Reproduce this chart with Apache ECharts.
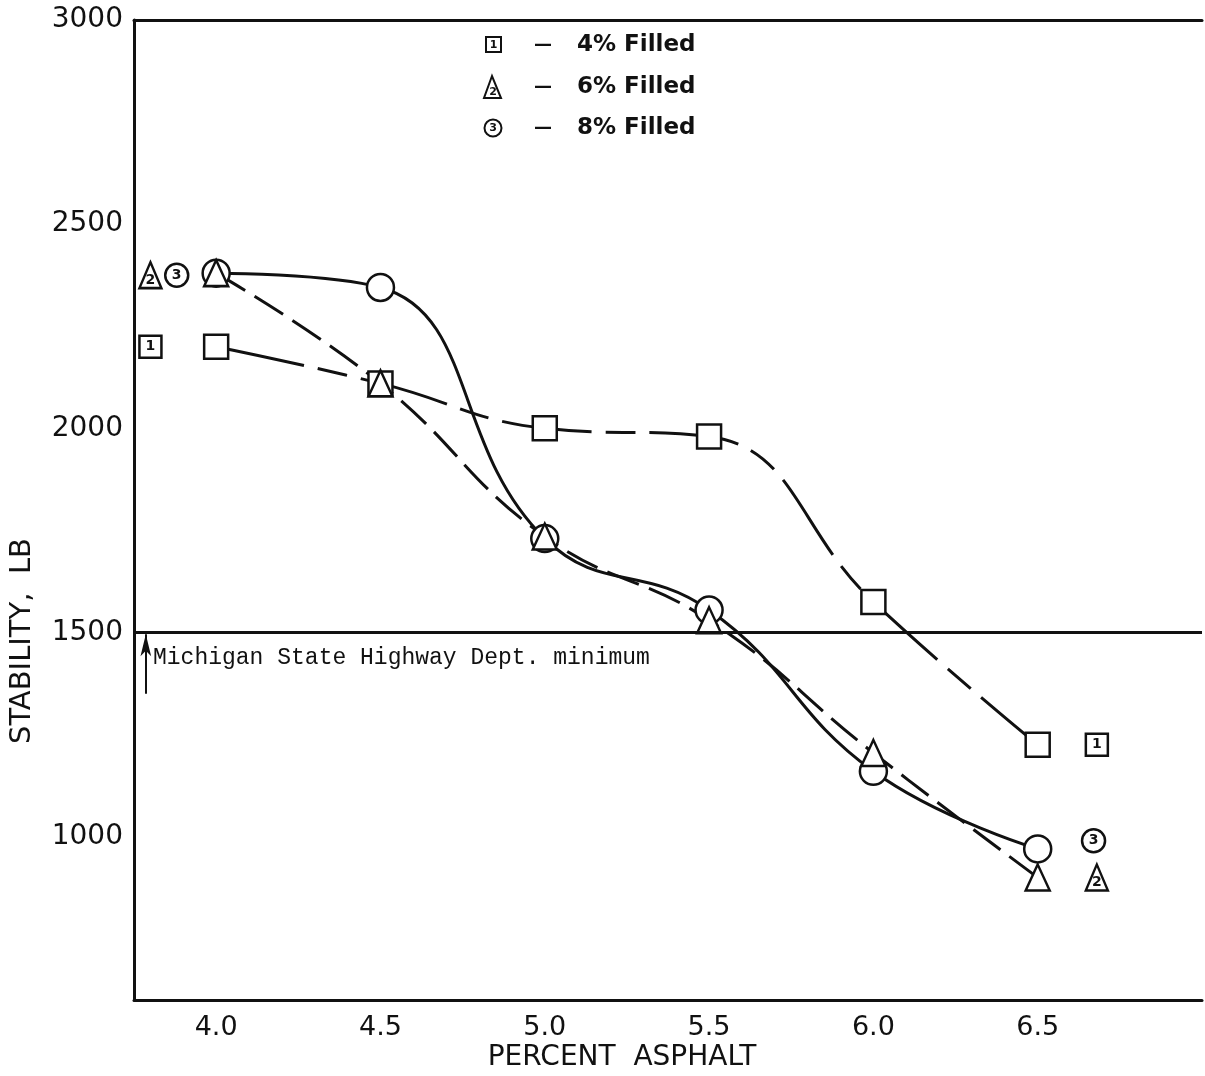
<!DOCTYPE html>
<html>
<head>
  <meta charset="utf-8">
  <title>Stability vs Percent Asphalt</title>
  <script src="https://cdn.jsdelivr.net/npm/echarts@6/dist/echarts.min.js"></script>
  <style>
    html, body { margin: 0; padding: 0; background: #fff; }
    #chart { width: 1205px; height: 1076px; }
  </style>
</head>
<body>
<div id="chart"></div>
<script>
  // data
  var asphalt = [4.0, 4.5, 5.0, 5.5, 6.0, 6.5];
  var filled4 = [2200, 2110, 2000, 1980, 1575, 1225];
  var filled6 = [2380, 2110, 1735, 1530, 1205, 900];
  var filled8 = [2380, 2345, 1730, 1555, 1160, 970];
  var xTicks = [4.0, 4.5, 5.0, 5.5, 6.0, 6.5];
  var yTicks = [1000, 1500, 2000, 2500, 3000];
  var minStability = 1500;
  var arrowX = 3.786, arrowFrom = 1350;

  // numbered tags beside the curves ends
  var tag1 = [[3.80, 2200], [6.68, 1225]];
  var tag2 = [[3.80, 2375], [6.68, 900]];
  var tag3 = [[3.88, 2375], [6.67, 990]];

  var legendRows = ['4% Filled', '6% Filled', '8% Filled'];

  var INK = '#111';
  var chart = echarts.init(document.getElementById('chart'));

  function pairs(ys) {
    return asphalt.map(function (x, i) { return [x, ys[i]]; });
  }

  function curve(name, ys, dash) {
    return {
      name: name, type: 'line', data: pairs(ys), smooth: 0.45,
      showSymbol: false, silent: true, z: 2,
      lineStyle: { color: INK, width: 3, type: dash }
    };
  }

  function marks(ys, symbol, size) {
    return {
      type: 'scatter', data: pairs(ys), symbol: symbol, symbolSize: size,
      silent: true, z: 4,
      itemStyle: { color: '#fff', borderColor: INK, borderWidth: 2.5, opacity: 1 }
    };
  }

  function tags(pts, symbol, size, num, off) {
    return {
      type: 'scatter', data: pts, symbol: symbol, symbolSize: size,
      silent: true, z: 4,
      itemStyle: { color: '#fff', borderColor: INK, borderWidth: 2.5, opacity: 1 },
      label: {
        show: true, position: 'inside', offset: off, formatter: num,
        color: INK, fontSize: 14, fontWeight: 'bold', fontFamily: 'DejaVu Sans'
      }
    };
  }

  var c8 = curve('8%', filled8, 'solid');
  c8.markLine = {
    silent: true, animation: false,
    symbol: ['none', 'none'],
    label: { show: false },
    lineStyle: { color: INK, width: 3, type: 'solid' },
    data: [
      { yAxis: minStability },
      [
        { coord: [arrowX, arrowFrom], symbol: 'none', lineStyle: { width: 2 } },
        { coord: [arrowX, minStability - 4], symbol: 'arrow', symbolSize: [8, 22] }
      ]
    ]
  };

  var legendGroup = [];
  var rowY = [45, 87, 128];
  legendGroup.push({ type: 'rect', shape: { x: 486, y: 37, width: 15, height: 15 },
    style: { fill: '#fff', stroke: INK, lineWidth: 2 } });
  legendGroup.push({ type: 'text', x: 493.5, y: 45, style: { text: '1', fill: INK,
    font: 'bold 11px "DejaVu Sans"', align: 'center', verticalAlign: 'middle' } });
  legendGroup.push({ type: 'polygon', shape: { points: [[492, 76], [484, 98], [501, 98]] },
    style: { fill: '#fff', stroke: INK, lineWidth: 2 } });
  legendGroup.push({ type: 'text', x: 493, y: 92, style: { text: '2', fill: INK,
    font: 'bold 11px "DejaVu Sans"', align: 'center', verticalAlign: 'middle' } });
  legendGroup.push({ type: 'circle', shape: { cx: 493, cy: 128, r: 8.5 },
    style: { fill: '#fff', stroke: INK, lineWidth: 2 } });
  legendGroup.push({ type: 'text', x: 493, y: 128, style: { text: '3', fill: INK,
    font: 'bold 11px "DejaVu Sans"', align: 'center', verticalAlign: 'middle' } });
  legendRows.forEach(function (t, i) {
    legendGroup.push({ type: 'text', x: 534, y: rowY[i], style: { text: '\u2014', fill: INK,
      font: 'bold 18px "DejaVu Sans"', verticalAlign: 'middle' } });
    legendGroup.push({ type: 'text', x: 577, y: rowY[i], style: { text: t, fill: INK,
      font: 'bold 23px "DejaVu Sans"', verticalAlign: 'middle' } });
  });

  var option = {
    animation: false,
    backgroundColor: '#fff',
    grid: { left: 134, top: 20, width: 1076, height: 980 },
    xAxis: [{
      type: 'value', min: 3.75, max: 7.0, interval: 0.25, position: 'bottom',
      axisLine: { show: true, onZero: false, lineStyle: { color: INK, width: 3 } },
      axisTick: { show: false },
      splitLine: { show: false },
      axisLabel: {
        margin: 14, color: INK, fontSize: 27, fontFamily: 'DejaVu Sans',
        formatter: function (v) {
          return xTicks.some(function (t) { return Math.abs(t - v) < 1e-6; }) ? v.toFixed(1) : '';
        }
      }
    }, {
      type: 'value', min: 3.75, max: 7.0, position: 'top',
      axisLine: { show: true, onZero: false, lineStyle: { color: INK, width: 3 } },
      axisTick: { show: false }, axisLabel: { show: false }, splitLine: { show: false }
    }],
    yAxis: {
      type: 'value', min: 600, max: 3000, interval: 100,
      axisLine: { show: true, onZero: false, lineStyle: { color: INK, width: 3 } },
      axisTick: { show: false },
      splitLine: { show: false },
      axisLabel: {
        margin: 11, color: INK, fontSize: 28, fontFamily: 'DejaVu Sans',
        formatter: function (v) { return yTicks.indexOf(v) >= 0 ? String(v) : ''; }
      }
    },
    graphic: [
      { type: 'text', x: 22, y: 641, rotation: Math.PI / 2,
        style: { text: 'STABILITY,  LB', fill: INK, font: '29px "DejaVu Sans"',
          align: 'center', verticalAlign: 'middle' } },
      { type: 'text', x: 622, y: 1058,
        style: { text: 'PERCENT  ASPHALT', fill: INK, font: '28px "DejaVu Sans"',
          align: 'center', verticalAlign: 'middle' } },
      { type: 'text', x: 153, y: 658,
        style: { text: 'Michigan State Highway Dept. minimum', fill: INK,
          font: '23px "Liberation Mono"', verticalAlign: 'middle' } },
      { type: 'group', children: legendGroup }
    ],
    series: [
      curve('4%', filled4, [90, 14, 30, 14]),
      curve('6%', filled6, [34, 11]),
      c8,
      marks(filled4, 'rect', 24),
      marks(filled8, 'circle', 27),
      marks(filled6, 'triangle', [24, 26]),
      tags(tag1, 'rect', 22, '1', [0, 0]),
      tags(tag3, 'circle', 23, '3', [0, 0]),
      tags(tag2, 'triangle', [22, 26], '2', [0, 5])
    ]
  };

  chart.setOption(option);
</script>
</body>
</html>
